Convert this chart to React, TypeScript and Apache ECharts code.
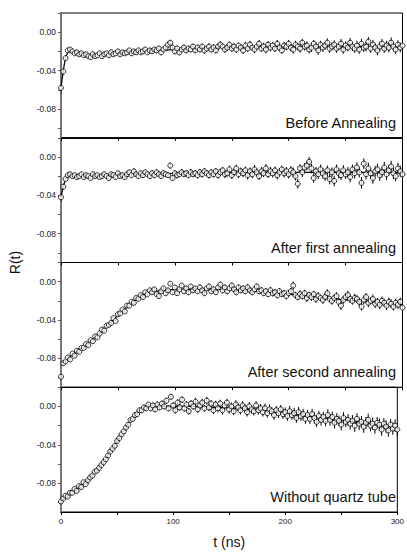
import React, { useEffect, useRef } from "react";
import * as echarts from "echarts";

// time (ns) of each measured point
const time = [
  0, 2, 4, 6, 8, 10, 12, 14, 16, 18,
  20, 22, 24, 26, 28, 30, 32, 34, 36, 38,
  40, 42, 44, 46, 48, 50, 52, 54, 56, 58,
  60, 62, 64, 66, 68, 70, 72, 74, 76, 78,
  80, 82, 84, 86, 88, 90, 92, 94, 96, 98,
  100, 102, 104, 106, 108, 110, 112, 114, 116, 118,
  120, 122, 124, 126, 128, 130, 132, 134, 136, 138,
  140, 142, 144, 146, 148, 150, 152, 154, 156, 158,
  160, 162, 164, 166, 168, 170, 172, 174, 176, 178,
  180, 182, 184, 186, 188, 190, 192, 194, 196, 198,
  200, 202, 204, 206, 208, 210, 212, 214, 216, 218,
  220, 222, 224, 226, 228, 230, 232, 234, 236, 238,
  240, 242, 244, 246, 248, 250, 252, 254, 256, 258,
  260, 262, 264, 266, 268, 270, 272, 274, 276, 278,
  280, 282, 284, 286, 288, 290, 292, 294, 296, 298,
  300,
];

// R(t) — Before Annealing
const beforeAnnealing = [
  -.058, -.041, -.027, -.019, -.018, -.020, -.022, -.021, -.023, -.022,
  -.024, -.023, -.025, -.026, -.023, -.025, -.024, -.022, -.025, -.023,
  -.022, -.024, -.021, -.023, -.022, -.020, -.023, -.021, -.022, -.021,
  -.019, -.022, -.020, -.021, -.019, -.021, -.020, -.018, -.021, -.019,
  -.020, -.018, -.019, -.017, -.021, -.018, -.016, -.013, -.011, -.016,
  -.020, -.017, -.021, -.018, -.016, -.019, -.017, -.018, -.015, -.019,
  -.016, -.018, -.015, -.019, -.017, -.015, -.018, -.016, -.019, -.015,
  -.013, -.015, -.018, -.016, -.013, -.017, -.015, -.018, -.014, -.016,
  -.019, -.014, -.017, -.013, -.016, -.018, -.015, -.012, -.017, -.015,
  -.018, -.013, -.016, -.014, -.017, -.012, -.016, -.019, -.014, -.015,
  -.012, -.016, -.018, -.013, -.015, -.017, -.011, -.015, -.014, -.018,
  -.016, -.012, -.015, -.019, -.013, -.016, -.014, -.011, -.017, -.015,
  -.013, -.017, -.015, -.012, -.018, -.014, -.016, -.011, -.015, -.017,
  -.014, -.018, -.012, -.016, -.015, -.010, -.017, -.013, -.016, -.019,
  -.015, -.012, -.017, -.014, -.016, -.011, -.015, -.018, -.013, -.016,
  -.014,
];
const errBefore = [
  .007, .003, .002, .002, .002, .002, .002, .002, .002, .002,
  .002, .002, .002, .002, .002, .002, .002, .002, .002, .002,
  .002, .002, .002, .002, .002, .002, .002, .002, .002, .002,
  .002, .0025, .002, .0025, .002, .0025, .002, .0025, .002, .0025,
  .0025, .0025, .003, .0025, .003, .0025, .003, .003, .003, .003,
  .003, .003, .003, .003, .003, .003, .003, .003, .003, .003,
  .003, .003, .003, .0035, .003, .0035, .003, .0035, .003, .0035,
  .0035, .003, .0035, .0035, .003, .0035, .0035, .0035, .003, .0035,
  .0035, .004, .0035, .004, .0035, .004, .0035, .004, .0035, .004,
  .004, .0035, .004, .004, .0035, .004, .004, .0035, .004, .004,
  .004, .004, .0045, .004, .004, .0045, .004, .004, .0045, .004,
  .0045, .004, .0045, .0045, .004, .0045, .004, .0045, .0045, .004,
  .0045, .0045, .004, .005, .0045, .0045, .004, .005, .0045, .0045,
  .005, .0045, .005, .0045, .005, .005, .0045, .005, .0045, .005,
  .005, .005, .0045, .005, .005, .0055, .005, .005, .0045, .005,
  .005,
];

// R(t) — After first annealing
const afterFirst = [
  -.042, -.031, -.023, -.019, -.018, -.020, -.019, -.021, -.020, -.018,
  -.021, -.019, -.020, -.022, -.018, -.020, -.019, -.021, -.020, -.018,
  -.020, -.022, -.018, -.019, -.021, -.017, -.020, -.019, -.021, -.018,
  -.016, -.019, -.015, -.018, -.020, -.017, -.019, -.016, -.018, -.020,
  -.017, -.019, -.016, -.018, -.020, -.017, -.018, -.019, -.009, -.022,
  -.017, -.019, -.018, -.016, -.018, -.017, -.019, -.016, -.018, -.017,
  -.019, -.016, -.018, -.015, -.017, -.019, -.016, -.018, -.015, -.019,
  -.016, -.014, -.018, -.017, -.013, -.019, -.016, -.012, -.018, -.015,
  -.017, -.014, -.019, -.015, -.018, -.013, -.016, -.020, -.015, -.017,
  -.012, -.018, -.015, -.017, -.014, -.019, -.016, -.013, -.017, -.015,
  -.018, -.014, -.016, -.020, -.028, -.012, -.016, -.011, -.009, -.005,
  -.012, -.022, -.015, -.018, -.013, -.017, -.020, -.014, -.023, -.016,
  -.025, -.013, -.017, -.019, -.014, -.018, -.016, -.021, -.013, -.017,
  -.011, -.016, -.027, -.007, -.018, -.012, -.017, -.022, -.015, -.013,
  -.019, -.016, -.011, -.018, -.014, -.010, -.017, -.020, -.012, -.015,
  -.018,
];
const errFirst = [
  .005, .003, .002, .002, .002, .002, .002, .002, .002, .002,
  .002, .002, .002, .002, .002, .002, .002, .002, .002, .002,
  .002, .0025, .002, .0025, .002, .0025, .002, .0025, .002, .0025,
  .0025, .0025, .003, .0025, .003, .0025, .003, .0025, .003, .003,
  .003, .003, .003, .003, .003, .003, .003, .003, .003, .003,
  .003, .0035, .003, .0035, .003, .0035, .003, .0035, .003, .0035,
  .0035, .0035, .0035, .0035, .0035, .0035, .0035, .0035, .0035, .0035,
  .004, .0035, .004, .0035, .004, .004, .0035, .004, .004, .004,
  .004, .004, .0045, .004, .004, .0045, .004, .004, .0045, .004,
  .0045, .004, .0045, .0045, .004, .0045, .0045, .004, .0045, .0045,
  .0045, .0045, .005, .0045, .005, .0045, .005, .0045, .005, .005,
  .005, .005, .0045, .005, .005, .0055, .005, .005, .0055, .005,
  .0055, .005, .0055, .005, .0055, .005, .0055, .0055, .005, .0055,
  .0055, .0055, .006, .0055, .0055, .006, .0055, .006, .0055, .006,
  .006, .0055, .006, .006, .0055, .006, .006, .0055, .006, .006,
  .006,
];

// R(t) — After second annealing
const afterSecond = [
  -.099, -.085, -.083, -.079, -.081, -.075, -.077, -.072, -.073, -.069,
  -.069, -.065, -.066, -.061, -.062, -.057, -.058, -.054, -.050, -.051,
  -.046, -.045, -.043, -.038, -.041, -.034, -.033, -.029, -.031, -.025,
  -.025, -.021, -.022, -.017, -.018, -.014, -.016, -.011, -.013, -.009,
  -.011, -.008, -.013, -.015, -.010, -.007, -.012, -.009, -.002, -.011,
  -.006, -.012, -.008, -.004, -.010, -.007, -.011, -.005, -.009, -.007,
  -.010, -.006, -.009, -.012, -.007, -.005, -.010, -.008, -.011, -.006,
  -.003, -.009, -.006, -.010, -.007, -.004, -.008, -.011, -.006, -.009,
  -.007, -.010, -.006, -.009, -.011, -.008, -.005, -.010, -.009, -.012,
  -.010, -.013, -.009, -.012, -.011, -.014, -.010, -.013, -.012, -.015,
  -.012, -.010, -.004, -.014, -.016, -.013, -.015, -.012, -.017, -.014,
  -.016, -.013, -.018, -.015, -.017, -.019, -.016, -.012, -.018, -.020,
  -.017, -.015, -.021, -.025, -.019, -.016, -.014, -.018, -.020, -.017,
  -.018, -.021, -.026, -.019, -.016, -.022, -.020, -.018, -.023, -.021,
  -.024, -.020, -.022, -.025, -.021, -.023, -.026, -.022, -.024, -.021,
  -.027,
];
const errSecond = [
  .002, .002, .0015, .0015, .0015, .0015, .0015, .0015, .0015, .0015,
  .0015, .0015, .0015, .0015, .0015, .0015, .0015, .0015, .0015, .0015,
  .0015, .0015, .0015, .0015, .0015, .0015, .0015, .0015, .0015, .0015,
  .002, .002, .002, .002, .002, .002, .002, .002, .002, .002,
  .002, .0025, .002, .0025, .002, .0025, .002, .0025, .002, .0025,
  .0025, .0025, .0025, .0025, .0025, .0025, .0025, .0025, .0025, .0025,
  .0025, .003, .0025, .003, .0025, .003, .0025, .003, .0025, .003,
  .003, .003, .003, .003, .003, .003, .003, .003, .003, .003,
  .003, .003, .0035, .003, .003, .0035, .003, .003, .0035, .003,
  .0035, .003, .0035, .0035, .003, .0035, .0035, .003, .0035, .0035,
  .0035, .0035, .004, .0035, .0035, .004, .0035, .0035, .004, .0035,
  .004, .0035, .004, .004, .0035, .004, .004, .004, .0035, .004,
  .004, .004, .004, .0045, .004, .004, .0045, .004, .004, .0045,
  .004, .0045, .004, .0045, .004, .0045, .004, .0045, .0045, .004,
  .0045, .0045, .004, .0045, .0045, .0045, .004, .0045, .0045, .0045,
  .0045,
];

// R(t) — Without quartz tube
const withoutTube = [
  -.099, -.096, -.093, -.094, -.090, -.090, -.086, -.088, -.083, -.084,
  -.079, -.081, -.077, -.074, -.072, -.068, -.067, -.064, -.061, -.058,
  -.055, -.051, -.047, -.044, -.041, -.036, -.033, -.029, -.026, -.022,
  -.019, -.014, -.013, -.009, -.008, -.004, -.004, -.001, -.002, .002,
  -.002, .001, -.003, .002, -.001, .003, .000, .006, -.002, .010,
  .001, -.004, .004, -.001, .007, -.002, .002, -.005, .003, .000,
  .005, -.003, .001, .004, -.002, .006, -.001, .003, -.004, .002,
  -.002, .003, -.004, .001, .004, -.003, .000, -.005, .002, -.001,
  -.004, .001, -.002, -.006, .000, -.003, -.005, .001, -.004, -.002,
  -.006, -.002, -.007, -.003, -.005, -.009, -.004, -.007, -.003, -.008,
  -.006, -.010, -.005, -.009, -.007, -.012, -.006, -.010, -.008, -.013,
  -.009, -.013, -.008, -.012, -.016, -.010, -.014, -.011, -.015, -.009,
  -.014, -.011, -.017, -.013, -.015, -.019, -.012, -.016, -.014, -.018,
  -.015, -.020, -.013, -.018, -.016, -.021, -.017, -.014, -.020, -.018,
  -.022, -.017, -.019, -.024, -.018, -.021, -.025, -.019, -.023, -.020,
  -.024,
];
const errWithout = [
  .002, .002, .002, .002, .002, .002, .002, .002, .002, .002,
  .002, .002, .002, .002, .002, .002, .002, .002, .002, .002,
  .002, .002, .002, .002, .002, .002, .002, .002, .002, .002,
  .0025, .0025, .0025, .0025, .0025, .0025, .0025, .0025, .0025, .0025,
  .003, .003, .003, .003, .003, .003, .003, .003, .003, .003,
  .0035, .0035, .0035, .0035, .0035, .0035, .0035, .0035, .0035, .0035,
  .004, .0035, .004, .004, .0035, .004, .004, .0035, .004, .004,
  .004, .004, .0045, .004, .004, .0045, .004, .004, .0045, .004,
  .0045, .0045, .0045, .0045, .0045, .0045, .0045, .0045, .0045, .0045,
  .0045, .005, .0045, .005, .0045, .005, .0045, .005, .0045, .005,
  .005, .005, .0055, .005, .0055, .005, .0055, .005, .0055, .005,
  .0055, .0055, .0055, .006, .0055, .0055, .006, .0055, .0055, .006,
  .006, .0055, .006, .006, .0055, .006, .006, .0055, .006, .006,
  .006, .0065, .006, .0065, .006, .0065, .006, .0065, .006, .0065,
  .0065, .006, .0065, .0065, .006, .0065, .0065, .006, .0065, .0065,
  .0065,
];

// fitted curves
const fitTime = [0, 2, 4, 6, 8, 10, 15, 20, 25, 30, 35, 40, 45, 50, 55, 60, 65, 70, 75, 80, 90, 100, 120, 140, 160, 180, 200, 220, 240, 260, 280, 300];
const fitBefore = [-.058, -.040, -.026, -.021, -.020, -.021, -.022, -.023, -.024, -.024, -.023, -.023, -.022, -.022, -.021, -.021, -.020, -.020, -.020, -.019, -.019, -.018, -.017, -.016, -.016, -.015, -.015, -.015, -.015, -.015, -.015, -.015];
const fitFirst = [-.042, -.031, -.023, -.020, -.019, -.019, -.020, -.020, -.020, -.020, -.020, -.019, -.019, -.019, -.019, -.018, -.018, -.018, -.018, -.018, -.018, -.017, -.017, -.017, -.016, -.016, -.016, -.016, -.016, -.016, -.016, -.016];
const fitSecond = [-.086, -.084, -.082, -.080, -.078, -.076, -.072, -.068, -.063, -.058, -.053, -.047, -.041, -.035, -.029, -.024, -.019, -.015, -.012, -.010, -.009, -.008, -.008, -.008, -.009, -.011, -.013, -.016, -.018, -.020, -.022, -.024];
const fitWithout = [-.098, -.097, -.095, -.093, -.091, -.089, -.085, -.080, -.075, -.069, -.062, -.054, -.045, -.036, -.027, -.018, -.011, -.005, -.002, -.001, .000, .000, .000, -.001, -.002, -.004, -.007, -.010, -.013, -.016, -.019, -.022];

const panelLabels = ["Before Annealing", "After first annealing", "After second annealing", "Without quartz tube"];
const yTickValues = [0.02, 0, -0.02, -0.04, -0.06, -0.08, -0.1];
const yLabelValues = [0, -0.04, -0.08];
const xLabelValues = [0, 100, 200, 300];

const panelValues = [beforeAnnealing, afterFirst, afterSecond, withoutTube];
const panelErrors = [errBefore, errFirst, errSecond, errWithout];
const panelFits = [fitBefore, fitFirst, fitSecond, fitWithout];

const FONT = "'Liberation Sans', Arial, sans-serif";

export default function App() {
  const ref = useRef<HTMLDivElement>(null);
  useEffect(() => {
    const chart = echarts.init(ref.current as HTMLDivElement, null, { renderer: "svg" });
    const left = 61;
    const plotW = 341.5;
    const top0 = 13;
    const panelH = 124.75;

    const grids: any[] = [];
    const xAxes: any[] = [];
    const yAxes: any[] = [];
    const series: any[] = [];
    const graphics: any[] = [];

    for (let i = 0; i < 4; i++) {
      const top = top0 + i * panelH;
      grids.push({
        left,
        top,
        width: plotW,
        height: panelH,
        show: true,
        borderColor: "#000",
        borderWidth: 1,
        backgroundColor: "transparent",
      });
      xAxes.push({
        type: "value",
        gridIndex: i,
        min: 0,
        max: 300,
        interval: 50,
        axisLine: { show: true, onZero: false, lineStyle: { color: "#000", width: 1 } },
        axisTick: { show: true, length: 3, lineStyle: { color: "#000" } },
        axisLabel: {
          show: i === 3,
          customValues: xLabelValues,
          fontSize: 8,
          color: "#222",
          margin: 5,
          fontFamily: FONT,
        },
        splitLine: { show: false },
        name: i === 3 ? "t (ns)" : "",
        nameLocation: "middle",
        nameGap: 23,
        nameTextStyle: { fontSize: 14, color: "#111", fontFamily: FONT },
      });
      yAxes.push({
        type: "value",
        gridIndex: i,
        min: -0.11,
        max: 0.02,
        axisLine: { show: true, onZero: false, lineStyle: { color: "#777", width: 2 } },
        axisTick: { show: true, length: 3, customValues: yTickValues, lineStyle: { color: "#555" } },
        axisLabel: {
          show: true,
          customValues: yLabelValues,
          formatter: (v: number) => v.toFixed(2),
          fontSize: 8.5,
          color: "#222",
          margin: 5,
          fontFamily: FONT,
        },
        splitLine: { show: false },
      });

      const vals = panelValues[i];
      const errs = panelErrors[i];
      const fit = panelFits[i];

      series.push({
        type: "custom",
        xAxisIndex: i,
        yAxisIndex: i,
        z: 1,
        clip: true,
        data: time.map((t, k) => [t, vals[k], errs[k]]),
        encode: { x: 0, y: 1 },
        renderItem: (params: any, api: any) => {
          const x = api.value(0);
          const y = api.value(1);
          const e = api.value(2);
          const p1 = api.coord([x, y - e]);
          const p2 = api.coord([x, y + e]);
          return {
            type: "line",
            shape: { x1: p1[0], y1: p1[1], x2: p2[0], y2: p2[1] },
            style: { stroke: "#000", lineWidth: 1 },
          };
        },
      });
      series.push({
        type: "line",
        xAxisIndex: i,
        yAxisIndex: i,
        z: 2,
        showSymbol: false,
        symbol: "none",
        lineStyle: { color: "#000", width: 1.2 },
        data: fitTime.map((t, k) => [t, fit[k]]),
      });
      series.push({
        type: "scatter",
        xAxisIndex: i,
        yAxisIndex: i,
        z: 3,
        symbol: "circle",
        symbolSize: 5,
        itemStyle: { color: "#fff", borderColor: "#000", borderWidth: 1 },
        data: time.map((t, k) => [t, vals[k]]),
      });

      graphics.push({
        type: "text",
        x: 396,
        y: top + panelH - 15,
        style: {
          text: panelLabels[i],
          align: "right",
          verticalAlign: "middle",
          fontSize: 14.5,
          fill: "#111",
          fontFamily: FONT,
        },
      });
    }

    graphics.push({
      type: "text",
      x: 15,
      y: top0 + 2 * panelH,
      rotation: Math.PI / 2,
      style: {
        text: "R(t)",
        align: "center",
        verticalAlign: "middle",
        fontSize: 14,
        fill: "#111",
        fontFamily: FONT,
      },
    });

    chart.setOption({
      animation: false,
      backgroundColor: "#fff",
      textStyle: { fontFamily: FONT },
      grid: grids,
      xAxis: xAxes,
      yAxis: yAxes,
      series,
      graphic: graphics,
    });
    return () => chart.dispose();
  }, []);
  return <div ref={ref} style={{ position: "fixed", left: 0, top: 0, width: 407, height: 552 }} />;
}
